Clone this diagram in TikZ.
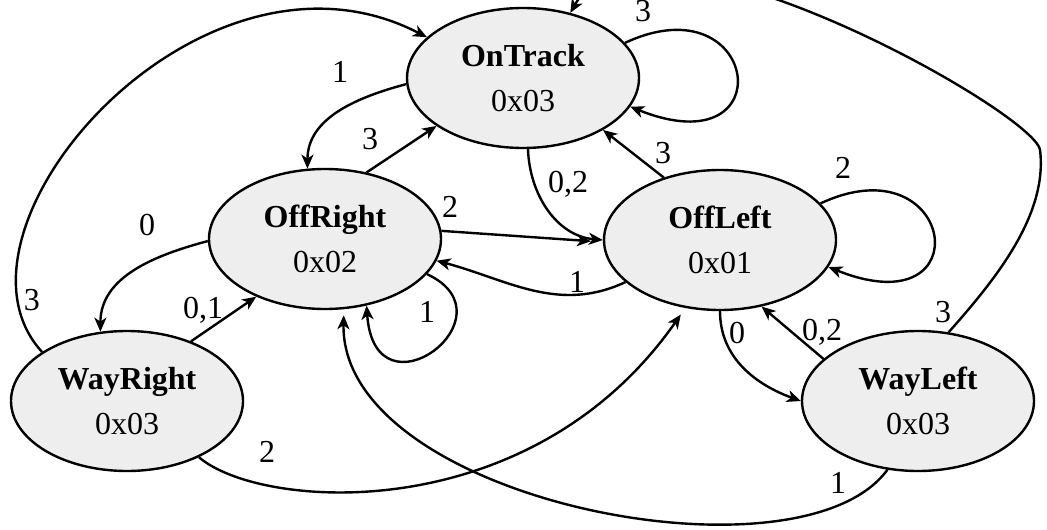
\documentclass[tikz,border=0pt]{standalone}
\usepackage{fontspec}
\setmainfont{Liberation Serif}
\usetikzlibrary{arrows.meta,shapes.geometric}
\definecolor{stategray}{RGB}{238,238,238}

\begin{document}
\begin{tikzpicture}[
  x=0.5pt, y=-0.5pt,
  font=\fontsize{16}{22.5}\selectfont,
  state/.style={ellipse, draw, line width=1.2pt, fill=stategray,
                minimum width=116pt, minimum height=70pt,
                inner sep=0pt, align=center},
  lbl/.style={anchor=base, inner sep=0pt},
  arr/.style={-{Stealth[length=7pt, width=6pt, inset=2pt]}, line width=1.2pt},
]

\useasboundingbox (0,0) rectangle (1047,529);

%% ---- STATES ----
\node[state] (on)   at (523, 78)  {\textbf{OnTrack}\\0x03};
\node[state] (offr) at (325,239)  {\textbf{OffRight}\\0x02};
\node[state] (offl) at (720,240)  {\textbf{OffLeft}\\0x01};
\node[state] (wr)   at (127,401)  {\textbf{WayRight}\\0x03};
\node[state] (wl)   at (918,401)  {\textbf{WayLeft}\\0x03};

%% ---- TRANSITIONS ----
% long ones round the outside
\draw[arr] (wr.150) .. controls (-70,230) and (200,-80) .. (on.157);
\draw[arr] (wl.66) .. controls (995,280) and (1048,215) .. (1040,150)
                   .. controls (1035,112) and (640,-110) .. (on.54);
\draw[arr, shorten >=4pt] (wr.322) .. controls (260,510) and (530,530) .. (offl.243);
\draw[arr, shorten >=3pt] (wl.246) .. controls (800,590) and (340,500) .. (offr.285);

% self loops
\draw[arr] (on.19)    .. controls +(135,-63) and +(155,62) .. (on.-15);
\draw[arr] (offl.20)  .. controls +(135,-63) and +(155,62) .. (offl.-14);
\draw[arr] (offr.-19) .. controls +(90,42) and +(8,118) .. (offr.-58);

% neighbours
\draw[arr] (on.183) to[out=195,in=90] (offr.104);
\draw[arr] (offr.58) -- (on.209);
\draw[arr] (on.274) to[out=-88,in=175] (offl.180);
\draw[arr] (offl.132) -- (on.327);
\draw[arr, shorten >=6pt] (offr.4) -- (offl.181);
\draw[arr] (offl.204) to[out=205,in=-15] (offr.-11);
\draw[arr] (offr.181) to[out=195,in=90] (wr.111);
\draw[arr] (wr.43) -- (offr.220);
\draw[arr] (offl.270) to[out=-90,in=160] (wl.180);
\draw[arr] (wl.156) -- (offl.302);

%% ---- LABELS (x, baseline y) ----
\foreach \n/\x/\y/\t in {
  l-on-on/643/22/3, l-on-offr/340/83/1, l-offr-on/370/150/3,
  l-offl-on/663/163/3, l-on-offl/568/192/{0,2}, l-offl-offl/843/178/2,
  l-offr-wr/147/235/0, l-offr-offl/450/217/2, l-offl-offr/577/292/1,
  l-wr-on/32/310/3, l-wr-offr/203/318/{0,1}, l-offr-offr/427/322/1,
  l-offl-wl/737/343/0, l-wl-offl/822/340/{0,2}, l-wl-on/943/322/3,
  l-wr-offl/267/462/2, l-wl-offr/838/493/1}
  {\node[lbl] (\n) at (\x,\y) {\t};}

\end{tikzpicture}
\end{document}
